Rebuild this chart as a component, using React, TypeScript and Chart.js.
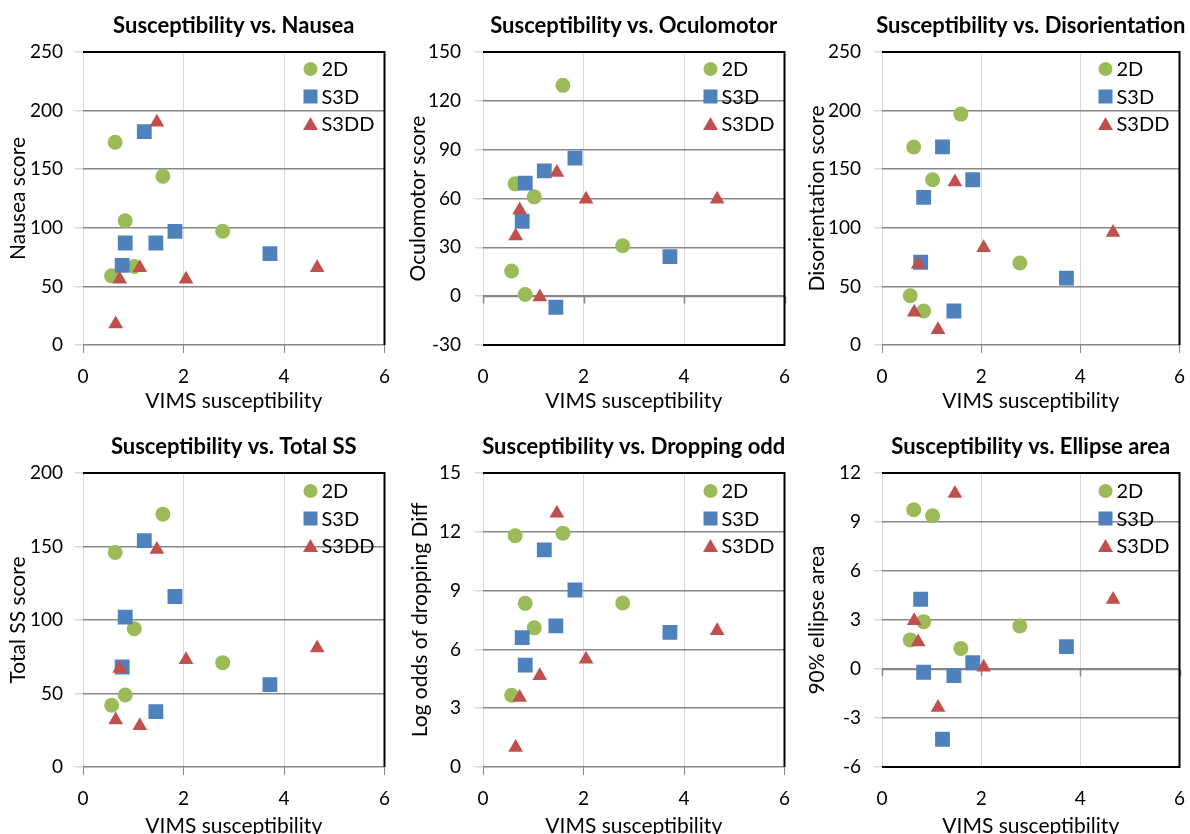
import React, { useEffect, useRef } from 'react';
import { Chart, registerables } from 'chart.js';

Chart.register(...registerables);

const FONT = 'Lato';
const GREEN = '#9BBB59';
const BLUE = '#4F81BD';
const RED = '#C0504D';

// Shared x values (VIMS susceptibility) per condition
const x2D = [0.57, 0.64, 0.84, 1.02, 1.59, 2.78];
const xS3D = [0.78, 0.84, 1.22, 1.45, 1.83, 3.72];
const xS3DD = [0.65, 0.73, 1.13, 1.47, 2.05, 4.66];

const seriesNames = ['2D', 'S3D', 'S3DD'];
const xTickLabels = [0, 2, 4, 6];

// Panel 1: Nausea
const nausea2D = [59, 173, 106, 67, 144, 97];
const nauseaS3D = [68, 87, 182, 87, 97, 78];
const nauseaS3DD = [18, 56, 66, 190, 56, 66];

// Panel 2: Oculomotor
const oculo2D = [15.5, 69, 1, 61, 129.5, 31];
const oculoS3D = [46, 69.4, 77, -6.8, 84.8, 24.3];
const oculoS3DD = [37, 53, -0.5, 76, 59.5, 59.5];

// Panel 3: Disorientation
const disor2D = [42, 169, 29, 141, 197, 70];
const disorS3D = [70.6, 126, 169, 29, 141, 57];
const disorS3DD = [28, 69, 13, 139, 83, 96];

// Panel 4: Total SS
const total2D = [42, 146, 49, 94, 172, 71];
const totalS3D = [68, 102, 154, 37.7, 116, 56];
const totalS3DD = [32, 67, 28, 148, 73, 81];

// Panel 5: Dropping odd
const drop2D = [3.66, 11.8, 8.35, 7.1, 11.93, 8.37];
const dropS3D = [6.6, 5.2, 11.08, 7.2, 9.03, 6.87];
const dropS3DD = [1.0, 3.55, 4.65, 12.95, 5.5, 6.95];

// Panel 6: Ellipse area
const ell2D = [1.78, 9.75, 2.9, 9.38, 1.26, 2.63];
const ellS3D = [4.27, -0.2, -4.3, -0.41, 0.38, 1.37];
const ellS3DD = [2.95, 1.65, -2.35, 10.75, 0.1, 4.25];

const panelTitles = [
  'Susceptibility vs. Nausea',
  'Susceptibility vs. Oculomotor',
  'Susceptibility vs. Disorientation',
  'Susceptibility vs. Total SS',
  'Susceptibility vs. Dropping odd',
  'Susceptibility vs. Ellipse area',
];
const yAxisTitles = [
  'Nausea score',
  'Oculomotor score',
  'Disorientation score',
  'Total SS score',
  'Log odds of dropping Diff',
  '90% ellipse area',
];
const xAxisTitle = 'VIMS susceptibility';
const yMins = [0, -30, 0, 0, 0, -6];
const yMaxs = [250, 150, 250, 200, 15, 12];
const ySteps = [50, 30, 50, 50, 3, 3];

const panelValues = [
  [nausea2D, nauseaS3D, nauseaS3DD],
  [oculo2D, oculoS3D, oculoS3DD],
  [disor2D, disorS3D, disorS3DD],
  [total2D, totalS3D, totalS3DD],
  [drop2D, dropS3D, dropS3DD],
  [ell2D, ellS3D, ellS3DD],
];
const seriesX = [x2D, xS3D, xS3DD];
const seriesColors = [GREEN, BLUE, RED];
const seriesStyles = ['circle', 'rect', 'triangle'];
const seriesRadius = [7.5, 10.5, 8.5];

// layout per column / row
const colLeft = [0, 395, 795];
const colWidth = [395, 400, 395];
const colYWidth = [83, 88, 87];
const colRightPad = [8, 8, 4];
const colYTitlePad = [[6, 6], [11, 13], [10, 10]];
const colYTickPad = [12, 14, 13];
const rowTop = [0, 420];
const rowHeight = [420, 425];
const rowTopPad = [52, 53];
const rowXAxisHeight = [75, 78];

function drawMarker(ctx: CanvasRenderingContext2D, style: string, cx: number, cy: number) {
  ctx.beginPath();
  if (style === 'circle') {
    ctx.arc(cx, cy, 7, 0, Math.PI * 2);
  } else if (style === 'rect') {
    ctx.rect(cx - 7, cy - 7, 14, 14);
  } else {
    ctx.moveTo(cx, cy - 7);
    ctx.lineTo(cx + 7.5, cy + 6);
    ctx.lineTo(cx - 7.5, cy + 6);
    ctx.closePath();
  }
  ctx.fill();
}

function Panel({ idx }: { idx: number }) {
  const ref = useRef<HTMLCanvasElement | null>(null);
  const col = idx % 3;
  const row = Math.floor(idx / 3);
  const width = colWidth[col];
  const height = rowHeight[row];

  useEffect(() => {
    const canvas = ref.current;
    if (!canvas) return;
    const yMin = yMins[idx];
    const legendTop = row === 0 ? 17 : 18;
    const framePlugin = {
      id: 'frame' + idx,
      beforeDatasetsDraw(chart: any) {
        const { ctx, chartArea: a, scales } = chart;
        const ys = scales.y;
        const xs = scales.x;
        ctx.save();
        if (yMin < 0) {
          const y0 = Math.round(ys.getPixelForValue(0)) + 0.5;
          ctx.strokeStyle = '#878787';
          ctx.lineWidth = 1.5;
          ctx.beginPath();
          ctx.moveTo(a.left, y0);
          ctx.lineTo(a.right, y0);
          xTickLabels.forEach((v) => {
            const px = Math.round(xs.getPixelForValue(v)) + 0.5;
            ctx.moveTo(px, y0);
            ctx.lineTo(px, y0 + 7);
          });
          ctx.stroke();
        }
        ctx.strokeStyle = '#000';
        ctx.lineWidth = 2;
        ctx.beginPath();
        ctx.moveTo(a.left, a.top);
        ctx.lineTo(a.right, a.top);
        ctx.lineTo(a.right, a.bottom);
        if (yMin < 0) {
          ctx.lineTo(a.left, a.bottom);
        }
        ctx.stroke();
        ctx.restore();
      },
      afterDraw(chart: any) {
        const { ctx, chartArea: a } = chart;
        ctx.save();
        ctx.fillStyle = '#000';
        ctx.font = `bold 22px ${FONT}`;
        ctx.textAlign = 'center';
        ctx.textBaseline = 'middle';
        ctx.fillText(panelTitles[idx], (a.left + a.right) / 2, a.top - 26);
        ctx.font = `20px ${FONT}`;
        ctx.textAlign = 'left';
        seriesNames.forEach((name, i) => {
          const cy = a.top + legendTop + i * 27.5;
          ctx.fillStyle = seriesColors[i];
          drawMarker(ctx, seriesStyles[i], a.right - 74, cy);
          ctx.fillStyle = '#000';
          ctx.fillText(name, a.right - 63, cy + 1);
        });
        ctx.restore();
      },
    };

    const datasets = seriesNames.map((name, i) => ({
      label: name,
      data: seriesX[i].map((x, j) => ({ x, y: panelValues[idx][i][j] })),
      backgroundColor: seriesColors[i],
      borderColor: seriesColors[i],
      borderWidth: 0,
      pointStyle: seriesStyles[i],
      pointRadius: seriesRadius[i],
      pointHoverRadius: seriesRadius[i],
      showLine: false,
      order: 3 - i,
    }));

    const chart = new Chart(canvas, {
      type: 'scatter',
      data: { datasets },
      plugins: [framePlugin],
      options: {
        animation: false,
        responsive: false,
        devicePixelRatio: 1,
        events: [],
        layout: { padding: { top: rowTopPad[row], right: colRightPad[col], left: 0, bottom: 0 } },
        plugins: {
          legend: { display: false },
          title: { display: false },
          tooltip: { enabled: false },
        },
        scales: {
          x: {
            type: 'linear',
            min: 0,
            max: 6,
            ticks: {
              stepSize: 2,
              color: '#000',
              font: { family: FONT, size: 19 },
              padding: yMin < 0 ? 20 : 12,
              maxRotation: 0,
            },
            grid: {
              color: '#d9d9d9',
              lineWidth: 1,
              drawTicks: yMin >= 0,
              tickLength: 8,
              tickColor: '#878787',
            },
            border: { display: false },
            title: {
              display: true,
              text: xAxisTitle,
              color: '#000',
              font: { family: FONT, size: 21 },
              padding: { top: 0, bottom: 6 },
            },
            afterFit: (s: any) => {
              s.height = rowXAxisHeight[row];
              s.paddingLeft = 0;
              s.paddingRight = 0;
            },
          },
          y: {
            type: 'linear',
            min: yMin,
            max: yMaxs[idx],
            ticks: {
              stepSize: ySteps[idx],
              color: '#000',
              font: { family: FONT, size: 19 },
              padding: colYTickPad[col],
            },
            grid: {
              color: '#878787',
              lineWidth: 1.5,
              drawTicks: true,
              tickLength: 8,
              tickColor: '#d9d9d9',
            },
            border: { display: false },
            title: {
              display: true,
              text: yAxisTitles[idx],
              color: '#000',
              font: { family: FONT, size: 21 },
              padding: { top: colYTitlePad[col][row], bottom: 0 },
            },
            afterFit: (s: any) => {
              s.width = colYWidth[col];
              s.paddingTop = 0;
              s.paddingBottom = 0;
            },
          },
        },
      } as any,
    });
    return () => chart.destroy();
  }, [idx]);

  return (
    <canvas
      ref={ref}
      width={width}
      height={height}
      style={{ position: 'absolute', left: colLeft[col], top: rowTop[row], width, height }}
    />
  );
}

export default function App() {
  return (
    <div
      style={{
        position: 'fixed',
        left: 0,
        top: 0,
        width: 1190,
        height: 834,
        overflow: 'hidden',
        background: '#fff',
      }}
    >
      {[0, 1, 2, 3, 4, 5].map((i) => (
        <Panel key={i} idx={i} />
      ))}
    </div>
  );
}
